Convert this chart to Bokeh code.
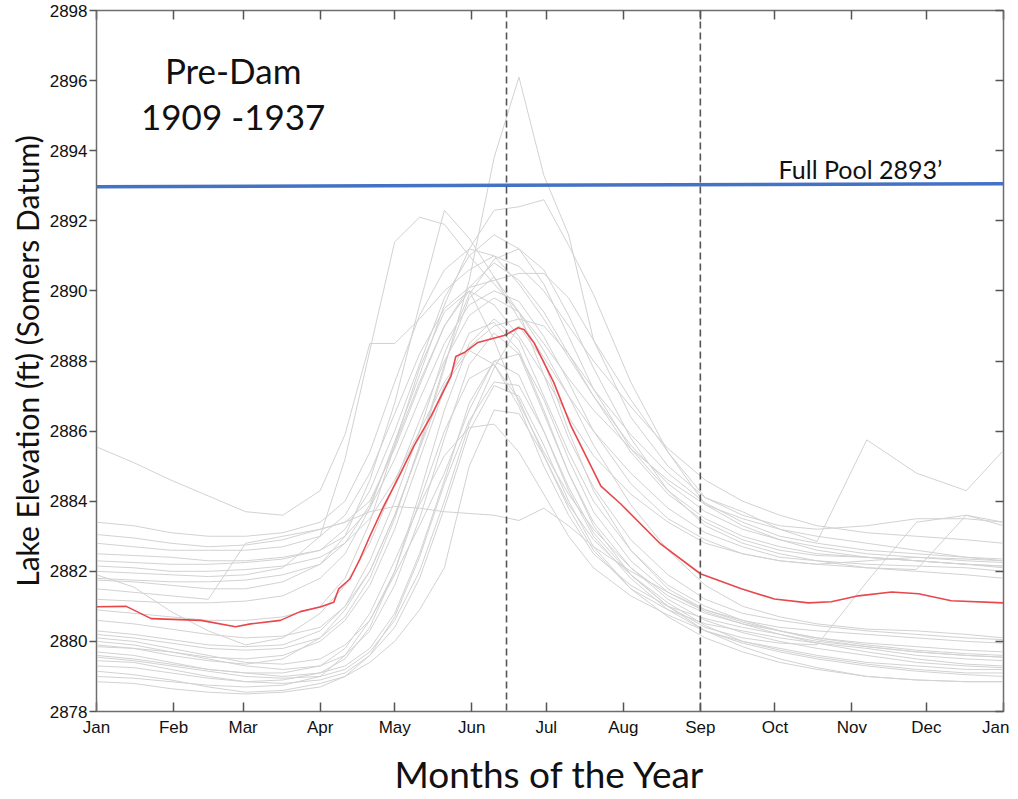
from bokeh.plotting import figure
from bokeh.models import FixedTicker, LinearAxis, Label, Span, Range1d
from bokeh.embed import file_html
from bokeh.resources import INLINE

# ---- data ----
month_ticks = [0, 31, 59, 90, 120, 151, 181, 212, 243, 273, 304, 334, 365]
month_labels = ["Jan", "Feb", "Mar", "Apr", "May", "Jun", "Jul", "Aug", "Sep", "Oct", "Nov", "Dec", "Jan"]
elev_ticks = [2878, 2880, 2882, 2884, 2886, 2888, 2890, 2892, 2894, 2896, 2898]

days = [0, 15, 30, 45, 60, 75, 90, 100, 110, 120, 130, 140, 150, 160, 170, 180, 190, 200,
        215, 230, 245, 260, 275, 290, 310, 330, 350, 365]

yr01 = [2885.55, 2885.1, 2884.6, 2884.15, 2883.7, 2883.6, 2884.3, 2885.9, 2888.5, 2888.5, 2889.2, 2890.0, 2890.6, 2891.0, 2890.7, 2890.0, 2889.0, 2888.0, 2886.7, 2885.5, 2884.6, 2884.0, 2883.6, 2883.3, 2883.1, 2883.0, 2882.9, 2882.8]
yr02 = [2882.0, 2881.95, 2881.9, 2881.85, 2881.9, 2882.1, 2883.0, 2885.2, 2888.3, 2891.4, 2892.1, 2891.9, 2891.0, 2890.2, 2889.4, 2888.5, 2887.5, 2886.6, 2885.5, 2884.6, 2883.9, 2883.5, 2883.2, 2883.0, 2882.8, 2882.6, 2882.4, 2882.3]
yr03 = [2881.75, 2881.7, 2881.6, 2881.5, 2881.5, 2881.7, 2882.2, 2883.0, 2884.6, 2886.8, 2889.6, 2892.3, 2891.5, 2890.4, 2889.2, 2888.1, 2887.0, 2886.0, 2884.8, 2883.8, 2883.1, 2882.7, 2882.4, 2882.3, 2882.2, 2882.15, 2882.1, 2882.0]
yr04 = [2879.9, 2879.8, 2879.6, 2879.45, 2879.35, 2879.5, 2880.1, 2880.9, 2882.0, 2883.6, 2885.5, 2887.8, 2890.3, 2893.8, 2896.1, 2893.3, 2891.6, 2888.6, 2886.4, 2885.0, 2884.1, 2883.7, 2883.2, 2882.85, 2885.75, 2884.8, 2884.3, 2885.45]
yr05 = [2881.2, 2881.15, 2881.1, 2881.1, 2881.15, 2881.3, 2881.8, 2882.5, 2883.8, 2885.7, 2887.6, 2889.6, 2891.2, 2892.3, 2892.4, 2892.6, 2891.3, 2889.9, 2887.4, 2885.4, 2883.9, 2883.3, 2882.9, 2882.6, 2882.4, 2882.3, 2882.2, 2882.15]
yr06 = [2880.3, 2880.2, 2880.05, 2879.9, 2879.85, 2879.9, 2880.3, 2881.0, 2882.3, 2884.0, 2886.0, 2888.2, 2889.9, 2890.9, 2891.2, 2890.6, 2889.3, 2887.8, 2885.8, 2884.3, 2883.3, 2882.8, 2882.5, 2882.3, 2882.1, 2882.0, 2881.9, 2881.8]
yr07 = [2882.8, 2882.7, 2882.6, 2882.6, 2882.6, 2882.7, 2883.0, 2883.6, 2884.8, 2886.5, 2888.2, 2889.5, 2890.1, 2890.3, 2890.5, 2890.5, 2889.8, 2888.6, 2886.9, 2885.4, 2884.1, 2883.6, 2883.3, 2883.2, 2883.3, 2883.5, 2883.5, 2883.4]
yr08 = [2883.05, 2882.95, 2882.8, 2882.7, 2882.75, 2882.9, 2883.2, 2883.4, 2883.7, 2883.85, 2883.8, 2883.7, 2883.65, 2883.6, 2883.45, 2883.8, 2883.3, 2882.7, 2882.0, 2881.4, 2880.9, 2880.6, 2880.4, 2880.3, 2880.2, 2880.1, 2880.0, 2879.95]
yr09 = [2881.9, 2881.55, 2880.85, 2880.3, 2879.9, 2880.1, 2880.8, 2881.6, 2882.8, 2884.5, 2886.3, 2888.0, 2889.3, 2889.8, 2889.4, 2888.3, 2887.0, 2885.6, 2883.9, 2882.6, 2881.6, 2881.0, 2880.7, 2880.5, 2880.35, 2880.3, 2880.2, 2880.1]
yr10 = [2881.5, 2881.4, 2881.3, 2881.2, 2882.8, 2883.0, 2883.2, 2883.4, 2884.0, 2885.5, 2887.3, 2889.0, 2890.0, 2889.6, 2888.7, 2887.6, 2886.4, 2885.3, 2884.2, 2883.4, 2882.8, 2882.5, 2882.3, 2882.2, 2882.3, 2882.4, 2882.35, 2882.3]
yr11 = [2882.5, 2882.45, 2882.4, 2882.3, 2882.3, 2882.4, 2882.6, 2883.2, 2884.3, 2886.0, 2887.9, 2889.8, 2891.0, 2891.6, 2891.2, 2890.2, 2888.7, 2887.2, 2885.5, 2884.3, 2883.5, 2883.0, 2882.7, 2882.5, 2882.4, 2882.3, 2882.2, 2882.1]
yr12 = [2880.1, 2880.0, 2879.8, 2879.6, 2879.4, 2879.35, 2879.5, 2879.9, 2880.6, 2882.0, 2884.2, 2886.6, 2888.5, 2889.2, 2888.6, 2887.0, 2885.4, 2884.0, 2882.6, 2881.6, 2881.0, 2880.6, 2880.3, 2880.05, 2879.85, 2879.7, 2879.6, 2879.55]
yr13 = [2879.85, 2879.8, 2879.7, 2879.5, 2879.3, 2879.2, 2879.3, 2879.6, 2880.3, 2881.6, 2883.5, 2885.8, 2887.9, 2888.8, 2888.2, 2886.5, 2884.8, 2883.4, 2882.1, 2881.2, 2880.6, 2880.25, 2880.0, 2879.8, 2879.6, 2879.4, 2879.3, 2879.25]
yr14 = [2879.7, 2879.6, 2879.4, 2879.2, 2879.1, 2879.0, 2879.1, 2879.3, 2879.8, 2880.8, 2882.5, 2884.6, 2886.8, 2888.0, 2887.6, 2886.0, 2884.3, 2883.0, 2881.8, 2880.9, 2880.3, 2879.95, 2879.7, 2879.5, 2879.3, 2879.15, 2879.05, 2879.0]
yr15 = [2879.45, 2879.4, 2879.2, 2879.0, 2878.85, 2878.8, 2878.9, 2879.1, 2879.6, 2880.4, 2881.8, 2883.8, 2886.0, 2887.3, 2887.0, 2885.6, 2884.0, 2882.7, 2881.5, 2880.7, 2880.1, 2879.7, 2879.4, 2879.2, 2879.0, 2878.9, 2878.85, 2878.85]
yr16 = [2879.15, 2879.05, 2878.9, 2878.7, 2878.55, 2878.6, 2878.8, 2879.0, 2879.4, 2880.0, 2880.9, 2882.1, 2885.0, 2886.6, 2886.5, 2885.3, 2883.9, 2882.9, 2881.9, 2881.1, 2880.45, 2880.0, 2879.75, 2879.55, 2879.35, 2879.2, 2879.1, 2879.1]
yr17 = [2878.85, 2878.8, 2878.65, 2878.55, 2878.5, 2878.55, 2878.7, 2879.0, 2879.6, 2880.7, 2882.4, 2884.5, 2886.3, 2887.4, 2887.3, 2886.0, 2884.4, 2883.1, 2881.9, 2881.0, 2880.3, 2879.85, 2879.5, 2879.25, 2879.0, 2878.9, 2878.85, 2878.85]
yr18 = [2880.0, 2879.9, 2879.7, 2879.55, 2879.5, 2879.6, 2880.0, 2880.6, 2881.6, 2883.2, 2885.2, 2887.2, 2888.8, 2889.1, 2888.3, 2886.6, 2884.8, 2883.3, 2881.9, 2881.0, 2880.4, 2880.1, 2879.95, 2879.9, 2881.7, 2883.4, 2883.6, 2883.3]
yr19 = [2882.3, 2882.25, 2882.2, 2882.2, 2882.25, 2882.35, 2882.6, 2883.0, 2883.8, 2885.2, 2886.9, 2888.5, 2889.6, 2890.0, 2889.7, 2888.7, 2887.4, 2886.0, 2884.5, 2883.5, 2882.9, 2882.5, 2882.3, 2882.2, 2882.1, 2882.05, 2883.6, 2883.4]
yr20 = [2881.8, 2881.75, 2881.7, 2881.7, 2881.75, 2881.9, 2882.2, 2882.8, 2883.9, 2885.6, 2887.4, 2889.0, 2890.1, 2890.8, 2890.3, 2889.4, 2888.2, 2887.0, 2885.4, 2884.2, 2883.4, 2882.9, 2882.6, 2882.45, 2882.4, 2882.3, 2882.2, 2882.15]
yr21 = [2880.9, 2880.8, 2880.7, 2880.6, 2880.6, 2880.7, 2881.0, 2881.8, 2883.4, 2885.6, 2887.8, 2889.4, 2890.0, 2888.6, 2886.8, 2885.4, 2884.2, 2883.2, 2882.1, 2881.3, 2880.8, 2880.5, 2880.3, 2880.1, 2879.95, 2879.85, 2879.75, 2879.7]
yr22 = [2879.3, 2879.25, 2879.1, 2878.95, 2878.85, 2878.9, 2879.1, 2879.5, 2880.4, 2882.0, 2884.0, 2886.0, 2887.5, 2887.9, 2886.9, 2885.3, 2883.8, 2882.6, 2881.5, 2880.9, 2880.5, 2880.3, 2880.1, 2879.95, 2879.8, 2879.6, 2879.5, 2879.45]
yr23 = [2879.6, 2879.5, 2879.35, 2879.2, 2879.1, 2879.1, 2879.3, 2879.8, 2880.8, 2882.3, 2883.9, 2885.3, 2886.1, 2886.2, 2885.4, 2884.2, 2883.0, 2882.1, 2881.3, 2880.75, 2880.3, 2880.0, 2879.8, 2879.6, 2879.4, 2879.3, 2879.2, 2879.2]
yr24 = [2882.15, 2882.1, 2882.0, 2882.0, 2882.05, 2882.15, 2882.4, 2882.8, 2883.5, 2884.6, 2886.0, 2887.4, 2888.4, 2889.0, 2889.2, 2889.0, 2888.2, 2887.2, 2885.9, 2884.8, 2883.95, 2883.4, 2883.0, 2882.8, 2882.6, 2882.5, 2882.4, 2882.35]
yr25 = [2880.6, 2880.5, 2880.35, 2880.2, 2880.1, 2880.15, 2880.4, 2881.0, 2882.0, 2883.6, 2885.5, 2887.3, 2888.3, 2887.9, 2886.7, 2885.0, 2883.6, 2882.5, 2881.6, 2881.0, 2880.65, 2880.4, 2880.2, 2880.0, 2879.85, 2879.7, 2879.6, 2879.55]
yr26 = [2879.0, 2878.95, 2878.85, 2878.75, 2878.7, 2878.75, 2879.0, 2879.6, 2880.6, 2881.9, 2883.3, 2884.8, 2886.6, 2888.0, 2888.2, 2886.9, 2885.2, 2883.7, 2882.3, 2881.4, 2880.85, 2880.5, 2880.2, 2879.95, 2879.7, 2879.5, 2879.35, 2879.3]
yr27 = [2883.4, 2883.3, 2883.1, 2883.0, 2883.0, 2883.1, 2883.4, 2884.0, 2885.4, 2887.4, 2889.3, 2890.6, 2891.2, 2891.0, 2890.2, 2889.2, 2888.1, 2887.0, 2885.6, 2884.5, 2883.7, 2883.2, 2882.9, 2882.7, 2882.5, 2882.4, 2882.3, 2882.25]
yr28 = [2879.55, 2879.45, 2879.3, 2879.15, 2879.0, 2878.95, 2879.0, 2879.2, 2879.7, 2880.6, 2882.0, 2884.0, 2886.2, 2887.8, 2889.0, 2888.0, 2886.0, 2884.3, 2882.6, 2881.5, 2880.9, 2880.55, 2880.3, 2880.1, 2879.9, 2879.75, 2879.65, 2879.6]
yr29 = [2880.2, 2880.1, 2879.95, 2879.8, 2879.75, 2879.8, 2880.1, 2880.7, 2881.8, 2883.5, 2885.6, 2887.9, 2889.8, 2890.4, 2889.4, 2887.6, 2885.8, 2884.4, 2882.9, 2881.9, 2881.2, 2880.8, 2880.6, 2880.45, 2880.3, 2880.2, 2880.1, 2880.05]

years = [yr01, yr02, yr03, yr04, yr05, yr06, yr07, yr08, yr09, yr10, yr11, yr12, yr13, yr14, yr15,
         yr16, yr17, yr18, yr19, yr20, yr21, yr22, yr23, yr24, yr25, yr26, yr27, yr28, yr29]

mean_days = [0, 12, 22, 42, 56, 62, 74, 82, 90, 95.5, 97.5, 102, 106, 110, 115.6, 121.7, 127.7, 134.6,
             142.6, 144.6, 148, 153.5, 164, 166, 169.6, 172, 176, 184, 191, 203, 211, 227, 243,
             259.5, 272.8, 286.5, 295.7, 306.6, 320, 330.8, 344, 365]
mean_elev = [2880.99, 2881.0, 2880.65, 2880.6, 2880.42, 2880.5, 2880.6, 2880.85, 2880.98, 2881.12, 2881.5,
             2881.78, 2882.35, 2883.0, 2883.86, 2884.7, 2885.57, 2886.42, 2887.56, 2888.13, 2888.24,
             2888.53, 2888.73, 2888.8, 2888.95, 2888.9, 2888.53, 2887.39, 2886.14, 2884.43, 2883.92,
             2882.78, 2881.93, 2881.5, 2881.21, 2881.1, 2881.13, 2881.3, 2881.41, 2881.36, 2881.16, 2881.1]

pool_days = [0, 365]
pool_elev = [2892.97, 2893.06]

marker_days = [165, 243]   # mid-June and Sep 1

# ---- figure ----
p = figure(width=1009, height=798, x_range=Range1d(0, 365), y_range=Range1d(2878, 2898),
           output_backend="svg", toolbar_location=None,
           min_border_left=96, min_border_right=6, min_border_top=10, min_border_bottom=85)
p.background_fill_color = "white"
p.border_fill_color = "white"
p.outline_line_color = "#6e6e6e"
p.outline_line_width = 1.5
p.xgrid.visible = False
p.ygrid.visible = False

for ys in years:
    p.line(days, ys, line_color="#d2d2d2", line_width=1.0)

p.line(mean_days, mean_elev, line_color="#e8474c", line_width=1.6)
p.line(pool_days, pool_elev, line_color="#4472c4", line_width=3.5)

for d in marker_days:
    p.add_layout(Span(location=d, dimension="height", line_color="#555555",
                      line_dash="7 4", line_width=1.6))

tick_font = "Liberation Sans"
xa = p.xaxis[0]
xa.ticker = FixedTicker(ticks=month_ticks)
xa.major_label_overrides = {t: l for t, l in zip(month_ticks, month_labels)}
xa.major_tick_in = 9
xa.major_tick_out = 0
xa.minor_tick_line_color = None
xa.axis_line_color = "#6e6e6e"
xa.major_tick_line_color = "#555555"
xa.major_tick_line_width = 1.5
xa.major_label_text_font = tick_font
xa.major_label_text_font_size = "17px"
xa.major_label_text_color = "#111111"
xa.major_label_standoff = 6
xa.axis_label = "Months of the Year"
xa.axis_label_text_font = "Lato"
xa.axis_label_text_font_style = "normal"
xa.axis_label_text_font_size = "37px"
xa.axis_label_text_color = "#111111"
xa.axis_label_standoff = 11

ya = p.yaxis[0]
ya.ticker = FixedTicker(ticks=elev_ticks)
ya.major_tick_in = 0
ya.major_tick_out = 7
ya.minor_tick_line_color = None
ya.axis_line_color = "#6e6e6e"
ya.major_tick_line_color = "#555555"
ya.major_tick_line_width = 1.5
ya.major_label_text_font = tick_font
ya.major_label_text_font_size = "17px"
ya.major_label_text_color = "#111111"
ya.major_label_standoff = 2
ya.axis_label = "Lake Elevation (ft) (Somers Datum)"
ya.axis_label_text_font = "Lato"
ya.axis_label_text_font_style = "normal"
ya.axis_label_text_font_size = "30px"
ya.axis_label_text_color = "#111111"
ya.axis_label_standoff = 2

top = LinearAxis(ticker=FixedTicker(ticks=month_ticks), major_tick_in=9, major_tick_out=0,
                 minor_tick_line_color=None, major_label_text_font_size="0px",
                 major_label_standoff=0, axis_line_color="#6e6e6e",
                 major_tick_line_color="#555555", major_tick_line_width=1.5)
p.add_layout(top, "above")
right = LinearAxis(ticker=FixedTicker(ticks=elev_ticks), major_tick_in=8, major_tick_out=0,
                   minor_tick_line_color=None, major_label_text_font_size="0px",
                   major_label_standoff=0, axis_line_color="#6e6e6e",
                   major_tick_line_color="#555555", major_tick_line_width=1.5)
p.add_layout(right, "right")

p.add_layout(Label(x=55, y=2896.3, text="Pre-Dam", text_align="center", text_baseline="middle",
                   text_font="Lato", text_font_size="35px", text_color="#111111"))
p.add_layout(Label(x=55, y=2895.0, text="1909 -1937", text_align="center", text_baseline="middle",
                   text_font="Lato", text_font_size="35px", text_color="#111111"))
p.add_layout(Label(x=274.5, y=2893.47, text="Full Pool 2893\u2019", text_align="left",
                   text_baseline="middle", text_font="Lato", text_font_size="25px",
                   text_color="#111111"))

open("out.html", "w").write(file_html(p, INLINE))
